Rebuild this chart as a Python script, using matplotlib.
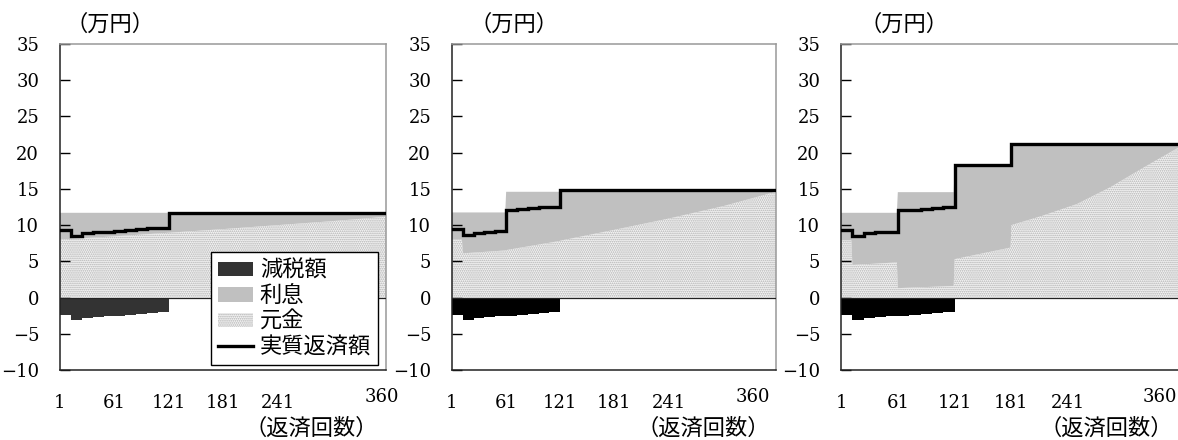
import numpy as np
import matplotlib.pyplot as plt
from matplotlib.patches import Patch
from matplotlib.lines import Line2D

plt.rcParams['font.family'] = ['DejaVu Serif', 'Noto Sans CJK JP']
plt.rcParams['hatch.linewidth'] = 0.8

# 減税額 per month (万円), years 1-10
deduction = [2.35, 3.15, 2.8, 2.7, 2.6, 2.5, 2.4, 2.3, 2.15, 2.05]

# monthly repayment for each 5-year period (months 1, 61, 121, 181, 241, 301)
pay_a = [11.7, 11.7, 11.7, 11.7, 11.7, 11.7]
pay_b = [11.75, 14.6, 14.8, 14.8, 14.8, 14.8]
pay_c = [11.7, 14.55, 18.25, 21.25, 21.25, 21.25]

# 元金 at selected repayment months
month_a = [1, 61, 121, 181, 241, 301, 360]
prin_a = [8.0, 8.45, 8.95, 9.45, 10.0, 10.55, 11.15]
month_b = [1, 12, 13, 60, 61, 120, 121, 181, 241, 301, 360]
prin_b = [8.0, 8.0, 6.1, 6.5, 6.55, 7.8, 7.85, 9.35, 10.9, 12.6, 14.6]
month_c = [1, 12, 13, 60, 61, 120, 121, 180, 181, 214, 250, 285, 320, 360]
prin_c = [7.9, 7.9, 4.5, 4.85, 1.3, 1.6, 5.3, 6.9, 10.0, 11.3, 12.9, 15.2, 17.9, 20.9]

xticks = [1, 61, 121, 181, 241]
yticks = list(range(-10, 40, 5))

c_ded_a = '#333333'
c_ded = '#000000'
c_int = '#c0c0c0'
c_prin_face = '#f4f4f4'
c_prin_dot = '#b0b0b0'
jp = ['Noto Sans CJK JP']


def draw_panel(ax, pay, month, prin, ded_color, x360):
    month = np.array(month)
    prin = np.array(prin)
    pay = np.array(pay)
    top = pay[(month - 1) // 60]

    ax.fill_between(month, 0, prin, facecolor=c_prin_face, edgecolor=c_prin_dot,
                    hatch='........', linewidth=0, zorder=1)
    ax.fill_between(month, prin, top, facecolor=c_int, linewidth=0, zorder=1)

    year_start = 1 + 12 * np.arange(30)
    ax.bar(year_start[:10], -np.array(deduction), width=12, align='edge',
           color=ded_color, linewidth=0, zorder=2)

    ded_year = np.zeros(30)
    ded_year[:10] = deduction
    eff = np.repeat(pay, 5) - ded_year
    ax.step(np.append(year_start, 360), np.append(eff, eff[-1]), where='post',
            color='black', lw=2.4, zorder=4, solid_joinstyle='miter')

    ax.axhline(0, color='#222222', lw=0.9, zorder=3)

    ax.set_xlim(1, 360)
    ax.set_ylim(-10, 35)
    ax.set_yticks(yticks)
    ax.set_yticklabels([str(v).replace('-', '\u2212') for v in yticks])
    ax.set_xticks(xticks)
    ax.set_xticklabels([str(v) for v in xticks])
    ax.tick_params(axis='y', direction='in', length=7, width=1, pad=15,
                   labelsize=13)
    ax.tick_params(axis='x', length=0, pad=17, labelsize=13)
    for side in ('left', 'bottom'):
        ax.spines[side].set_color('#222222')
        ax.spines[side].set_linewidth(1.1)
    for side in ('top', 'right'):
        ax.spines[side].set_color('#999999')
        ax.spines[side].set_linewidth(1.1)

    ax.text(x360, -13.7, '360', ha='center', va='center', fontsize=13,
            clip_on=False)


fig = plt.figure(figsize=(11.78, 4.40), dpi=100)
W, H = 1178, 440
ax_a = fig.add_axes([60 / W, 70 / H, 326 / W, 326 / H])
ax_b = fig.add_axes([452 / W, 70 / H, 324 / W, 326 / H])
ax_c = fig.add_axes([841 / W, 70 / H, 340 / W, 326 / H])

draw_panel(ax_a, pay_a, month_a, prin_a, c_ded_a, 356)
draw_panel(ax_b, pay_b, month_b, prin_b, c_ded, 334)
draw_panel(ax_c, pay_c, month_c, prin_c, c_ded, 338)

for ax, dx in ((ax_a, 50), (ax_b, 62), (ax_c, 63)):
    ax.annotate('（万円）', xy=(0, 1), xycoords='axes fraction',
                xytext=(dx, 20), textcoords='offset pixels',
                ha='center', va='center', fontsize=16,
                family=jp, annotation_clip=False)
for ax, dx in ((ax_a, -8), (ax_b, -6), (ax_c, -8)):
    ax.annotate('（返済回数）', xy=(1, 0), xycoords='axes fraction',
                xytext=(dx, -58), textcoords='offset pixels',
                ha='right', va='center', fontsize=16,
                family=jp, annotation_clip=False)

handles = [
    Patch(facecolor=c_ded_a, edgecolor='none'),
    Patch(facecolor=c_int, edgecolor='none'),
    Patch(facecolor=c_prin_face, edgecolor=c_prin_dot, hatch='........',
          linewidth=0),
    Line2D([0], [0], color='black', lw=2.4),
]
labels = ['減税額', '利息', '元金', '実質返済額']
leg = ax_a.legend(handles, labels, loc='upper left',
                  bbox_to_anchor=(0.463, 0.362), frameon=True, fancybox=False,
                  edgecolor='black', framealpha=1,
                  prop={'family': jp, 'size': 16},
                  handlelength=1.6, handleheight=0.6, handletextpad=0.3,
                  labelspacing=0.12, borderpad=0.3, borderaxespad=0)
leg.get_frame().set_linewidth(1.0)
leg.set_zorder(10)

fig.savefig('out.png', dpi=100)
